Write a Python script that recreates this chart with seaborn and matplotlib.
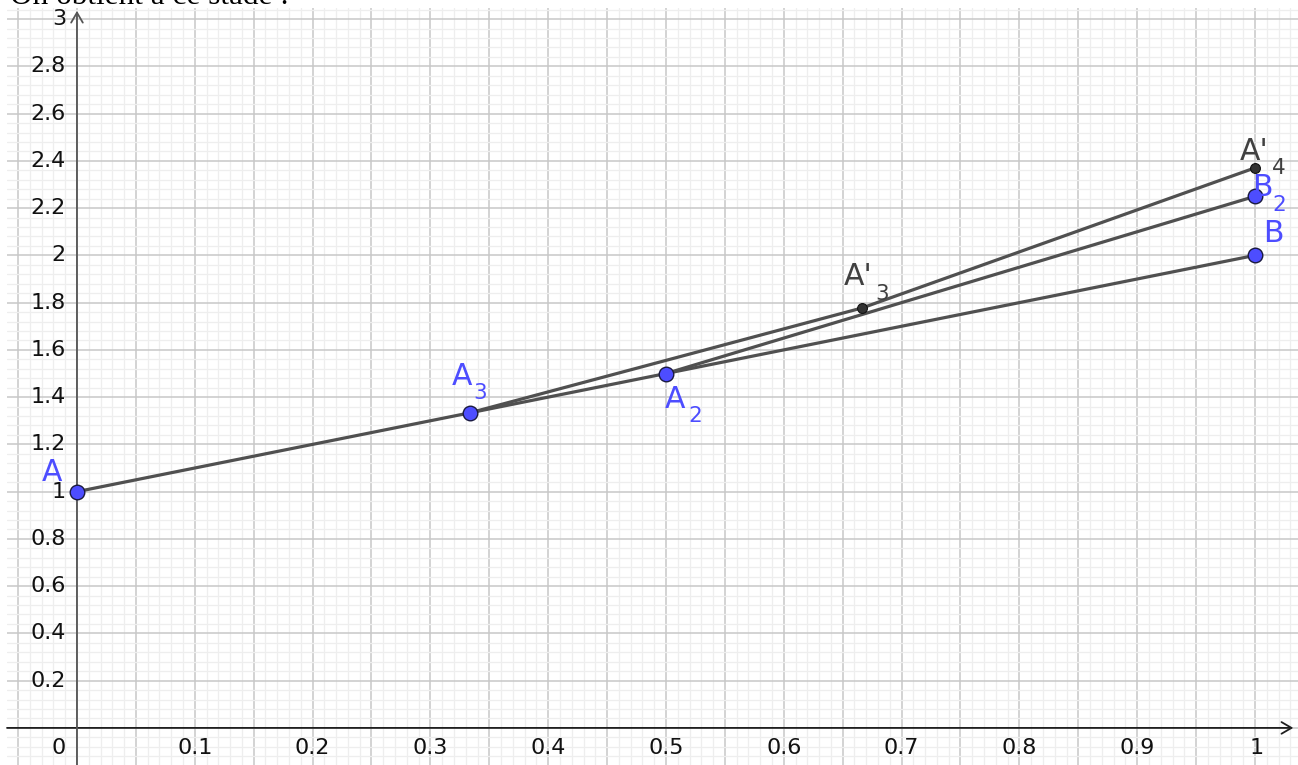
import numpy as np
import pandas as pd
import matplotlib
matplotlib.use("Agg")
import matplotlib.pyplot as plt
import seaborn as sns

# ---------------- data ----------------
point_names = ["A", "A", "A", "B", "B", "A'", "A'"]
point_subs = ["", "2", "3", "", "2", "3", "4"]
point_x = [0.0, 0.5, 0.3333, 1.0, 1.0, 0.6667, 1.0]
point_y = [1.0, 1.5, 1.3333, 2.0, 2.25, 1.7778, 2.3704]
point_kind = ["free", "free", "free", "free", "free", "dep", "dep"]

# segments as pairs of point indices
seg_start = [0, 1, 2, 5]
seg_end = [3, 4, 5, 6]

x_tick_values = [0.1, 0.2, 0.3, 0.4, 0.5, 0.6, 0.7, 0.8, 0.9, 1]
x_tick_labels = ["0.1", "0.2", "0.3", "0.4", "0.5", "0.6", "0.7", "0.8", "0.9", "1"]
y_tick_values = [0.2, 0.4, 0.6, 0.8, 1, 1.2, 1.4, 1.6, 1.8, 2, 2.2, 2.4, 2.6, 2.8, 3]
y_tick_labels = ["0.2", "0.4", "0.6", "0.8", "1", "1.2", "1.4", "1.6", "1.8", "2",
                 "2.2", "2.4", "2.6", "2.8", "3"]

# ---------------- styling ----------------
BLUE = "#4d4dff"
DARK = "#404040"
LINE = "#505050"
W, H, DPI = 1298, 765, 100
PX = 72.0 / DPI  # points per pixel

# label offsets in pixels (main letter lower-left, subscript lower-left), relative to point
label_off = [(-35, 11), (-1, -34), (-18, 28), (8, 13), (-3, 0), (-19, 23), (-15, 8)]
sub_off = [None, (22, -48), (4, 14), None, (17, -15), (13, 8), (17, -6)]

sns.set_theme(style="white")
plt.rcParams["font.family"] = ["DejaVu Sans"]

fig = plt.figure(figsize=(W / DPI, H / DPI), dpi=DPI)
ax = fig.add_axes([7 / W, 0, (W - 7) / W, (H - 8) / H])

xmin, xmax = -0.0594, 1.0365
ymin, ymax = -0.157, 3.047

# segments
rows = []
for k, (i, j) in enumerate(zip(seg_start, seg_end)):
    rows.append({"seg": k, "order": 0, "x": point_x[i], "y": point_y[i]})
    rows.append({"seg": k, "order": 1, "x": point_x[j], "y": point_y[j]})
seg_df = pd.DataFrame(rows)
sns.lineplot(data=seg_df, x="x", y="y", units="seg", estimator=None, sort=False,
             color=LINE, lw=2.3, ax=ax, zorder=3)

# points
pts = pd.DataFrame({"x": point_x, "y": point_y, "kind": point_kind})
free = pts[pts.kind == "free"]
dep = pts[pts.kind == "dep"]
sns.scatterplot(data=free, x="x", y="y", s=110, color=BLUE, edgecolor="#1a1a40",
                linewidth=1.0, ax=ax, zorder=5)
sns.scatterplot(data=dep, x="x", y="y", s=50, color="#333333", edgecolor="#111111",
                linewidth=0.8, ax=ax, zorder=5)
ax.set_xlabel("")
ax.set_ylabel("")

# grid
ax.set_xticks(np.round(np.arange(-0.05, 1.051, 0.05), 3))
ax.set_xticks(np.round(np.arange(-0.06, 1.041, 0.01), 3), minor=True)
ax.set_yticks(np.round(np.arange(-0.2, 3.21, 0.2), 3))
ax.set_yticks(np.round(np.arange(-0.16, 3.05, 0.04), 3), minor=True)
ax.set_xlim(xmin, xmax)
ax.set_ylim(ymin, ymax)
ax.grid(which="minor", color="#eeeeee", lw=0.9, zorder=0)
ax.grid(which="major", color="#c8c8c8", lw=1.1, zorder=0)
ax.tick_params(which="both", length=0, labelbottom=False, labelleft=False)
for s in ax.spines.values():
    s.set_visible(False)
ax.set_axisbelow(True)

# axes with arrows
ax.annotate("", xy=(xmax - 0.004, 0), xytext=(xmin, 0),
            arrowprops=dict(arrowstyle="->,head_length=0.6,head_width=0.35",
                            color="#202020", lw=1.3, shrinkA=0, shrinkB=0), zorder=2)
ax.annotate("", xy=(0, ymax - 0.012), xytext=(0, ymin),
            arrowprops=dict(arrowstyle="->,head_length=0.6,head_width=0.35",
                            color="#555555", lw=1.3, shrinkA=0, shrinkB=0), zorder=2)

# tick labels
for v, t in zip(y_tick_values, y_tick_labels):
    ax.annotate(t, xy=(0, v), xytext=(-11 * PX, 0), textcoords="offset points",
                ha="right", va="center", fontsize=16, color="#111111")
for v, t in zip(x_tick_values, x_tick_labels):
    dx = 2 if t == "1" else 0
    ax.annotate(t, xy=(v, 0), xytext=(dx * PX, -20 * PX), textcoords="offset points",
                ha="center", va="center", fontsize=16, color="#111111")
ax.annotate("0", xy=(0, 0), xytext=(-18 * PX, -20 * PX), textcoords="offset points",
            ha="center", va="center", fontsize=16, color="#111111")

# point labels
for i in range(len(point_names)):
    col = BLUE if point_kind[i] == "free" else DARK
    ox, oy = label_off[i]
    ax.annotate(point_names[i], xy=(point_x[i], point_y[i]),
                xytext=(ox * PX, oy * PX), textcoords="offset points",
                ha="left", va="baseline", fontsize=21.5, color=col, zorder=6)
    if point_subs[i]:
        sx, sy = sub_off[i]
        ax.annotate(point_subs[i], xy=(point_x[i], point_y[i]),
                    xytext=(sx * PX, sy * PX), textcoords="offset points",
                    ha="left", va="baseline", fontsize=15.5, color=col, zorder=6)

# cropped text at top
fig.text(10 / W, 1 - 4 / H, "On obtient à ce stade :", ha="left", va="baseline",
         fontsize=22.5, family="Liberation Serif", color="black")

fig.savefig("out.png", dpi=DPI)
